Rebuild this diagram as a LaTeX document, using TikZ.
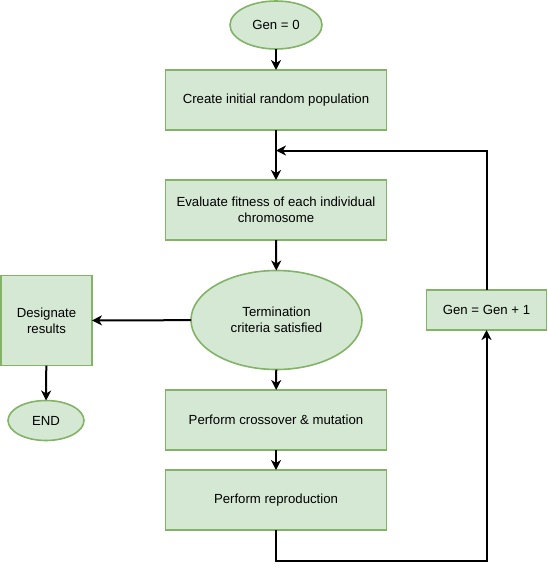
\documentclass[tikz,border=0pt]{standalone}
\usepackage{fontspec}
\setmainfont{Liberation Sans}
\usetikzlibrary{shapes.geometric,arrows.meta}
\definecolor{gfill}{HTML}{D5E8D4}
\definecolor{gline}{HTML}{82B366}
\tikzset{
  box/.style={rectangle,draw=gline,fill=gfill,line width=1.6pt,outer sep=0pt,inner sep=2pt,align=center,font=\fontsize{13.2}{16}\selectfont},
  oval/.style={ellipse,draw=gline,fill=gfill,line width=1.6pt,outer sep=0pt,inner sep=0pt,align=center,font=\fontsize{13.2}{16}\selectfont},
  conn/.style={line width=2pt,-{Stealth[length=10pt,width=10pt,inset=3pt]}},
}
\begin{document}
\begin{tikzpicture}[x=1pt,y=-1pt]
\useasboundingbox (0,0) rectangle (547,571);
\node[oval,minimum width=92pt,minimum height=48pt] (gen0) at (276,25) {Gen = 0};
\node[box,minimum width=221pt,minimum height=60pt] (create) at (276,100) {Create initial random population};
\node[box,minimum width=221pt,minimum height=60pt] (eval) at (276,210) {Evaluate fitness of each individual\\chromosome};
\node[oval,minimum width=171pt,minimum height=99pt] (term) at (276.5,320) {Termination\\criteria satisfied};
\node[box,minimum width=91pt,minimum height=90pt] (desig) at (46.5,320.5) {Designate\\results};
\node[oval,minimum width=76pt,minimum height=40pt] (end) at (46,420.5) {END};
\node[box,minimum width=221pt,minimum height=60pt] (cross) at (276,420) {Perform crossover \& mutation};
\node[box,minimum width=221pt,minimum height=60pt] (repro) at (276,500) {Perform reproduction};
\node[box,minimum width=120pt,minimum height=40pt] (gen1) at (486.5,310) {Gen = Gen + 1};
\coordinate (loopin) at (276,150.5);
\draw[conn] (gen0) -- (create);
\draw[conn] (create) -- (eval);
\draw[conn] (gen1.north) |- (loopin);
\draw[conn] (eval) -- (term);
\draw[conn] (term) -- (desig);
\draw[conn] (desig) -- (end);
\draw[conn] (term) -- (cross);
\draw[conn] (cross) -- (repro);
\draw[conn] (repro.south) -- (276,561) -| (gen1.south);
\end{tikzpicture}
\end{document}
